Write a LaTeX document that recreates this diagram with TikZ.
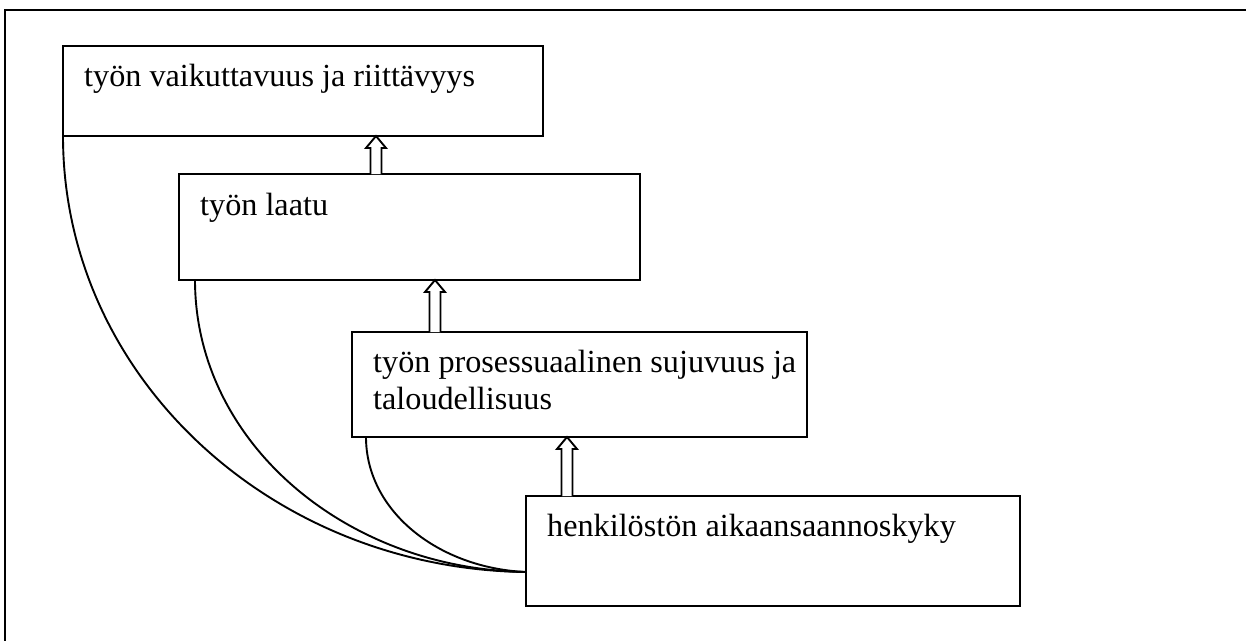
\documentclass[tikz,border=0pt]{standalone}
\usepackage{fontspec}
\setmainfont{Liberation Serif}
\newcommand\hollowup[2]{%
  \draw[arr] ([xshift=-5.5pt]#1) -- ([xshift=-5.5pt,yshift=-12pt]#2) -- ([xshift=-10pt,yshift=-12pt]#2) -- (#2) -- ([xshift=10pt,yshift=-12pt]#2) -- ([xshift=5.5pt,yshift=-12pt]#2) -- ([xshift=5.5pt]#1);}
\begin{document}
\begin{tikzpicture}[x=1pt,y=-1pt,
  box/.style={draw, line width=2.2pt, inner sep=0pt, outer sep=0pt, anchor=north west},
  lbl/.style={inner sep=0pt, anchor=base west, font=\fontsize{32.2pt}{37pt}\selectfont},
  arr/.style={draw, line width=1.9pt, line join=miter, fill=white},
  curve/.style={draw, line width=1.9pt},
  frame/.style={draw, line width=2.6pt}]
\useasboundingbox (0,0) rectangle (1246,641);
% outer frame (only top and left edges visible)
\coordinate (f0) at (5,10);
\coordinate (f1) at (1246,10);
\coordinate (f2) at (5,641);
\draw[frame] (f1) -- (f0) -- (f2);
% boxes
\node[box, minimum width=480pt, minimum height=90pt] (b1) at (63,46) {};
\node[box, minimum width=461pt, minimum height=106pt] (b2) at (179,174) {};
\node[box, minimum width=455pt, minimum height=105pt] (b3) at (352,332) {};
\node[box, minimum width=494pt, minimum height=110pt] (b4) at (526,496) {};
% texts
\node[lbl] (t1) at ([shift={(21pt,-40pt)}]b1.north west) {työn vaikuttavuus ja riittävyys};
\node[lbl] (t2) at ([shift={(21pt,-41pt)}]b2.north west) {työn laatu};
\node[lbl] (t3a) at ([shift={(21pt,-40pt)}]b3.north west) {työn prosessuaalinen sujuvuus ja};
\node[lbl] (t3b) at ([shift={(21pt,-77pt)}]b3.north west) {taloudellisuus};
\node[lbl] (t4) at ([shift={(21pt,-40pt)}]b4.north west) {henkilöstön aikaansaannoskyky};
% hollow arrows
\coordinate (a1) at (376,0);
\coordinate (a2) at (435,0);
\coordinate (a3) at (567,0);
\hollowup{a1 |- b2.north}{a1 |- b1.south}
\hollowup{a2 |- b3.north}{a2 |- b2.south}
\hollowup{a3 |- b4.north}{a3 |- b3.south}
% curves
\coordinate (j) at ([yshift=-21pt]b4.west);
\coordinate (c2) at ([xshift=16pt]b2.south west);
\coordinate (c3) at ([xshift=14pt]b3.south west);
\draw[curve] (b1.south west) .. controls +(0,240) and +(-255,-3) .. (j);
\draw[curve] (c2) .. controls +(0,161) and +(-182,-3) .. (j);
\draw[curve] (c3) .. controls +(0,74) and +(-88,-4) .. (j);
\end{tikzpicture}
\end{document}
